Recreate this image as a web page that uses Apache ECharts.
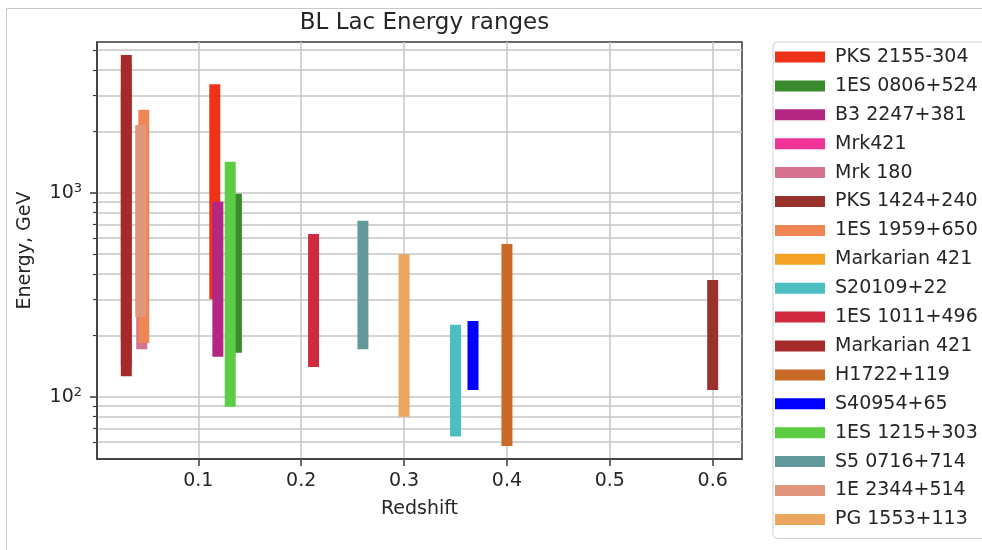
<!DOCTYPE html>
<html>
<head>
<meta charset="utf-8">
<script src="https://cdn.jsdelivr.net/npm/echarts@6/dist/echarts.min.js"></script>
<style>
html,body{margin:0;padding:0;background:#fff;}
#chart{width:982px;height:550px;}
</style>
</head>
<body>
<div id="chart"></div>
<script>
// ---- data ----
var sourceNames = ['PKS 2155-304','1ES 0806+524','B3 2247+381','Mrk421','Mrk 180','PKS 1424+240','1ES 1959+650','Markarian 421','S20109+22','1ES 1011+496','Markarian 421','H1722+119','S40954+65','1ES 1215+303','S5 0716+714','1E 2344+514','PG 1553+113'];
var redshift    = [0.116, 0.137, 0.119, 0.030, 0.045, 0.600, 0.047, 0.030, 0.350, 0.212, 0.030, 0.400, 0.367, 0.131, 0.260, 0.044, 0.300];
var energyLow   = [320, 175, 167, 150, 182, 115, 195, 200, 68, 149, 134, 61, 115, 95, 182, 262, 85];
var energyHigh  = [3200, 930, 850, 3000, 1000, 351, 2400, 4000, 212, 590, 4450, 527, 221, 1334, 685, 2018, 470];
var xTicks = [0.1, 0.2, 0.3, 0.4, 0.5, 0.6];
var yMajorTicks = [100, 1000];
var yMinorTicks = [60, 70, 80, 90, 200, 300, 400, 500, 600, 700, 800, 900, 2000, 3000, 4000, 5000];

// ---- styles ----
var palette = ['#f03218','#3a8a2e','#b32782','#ef3597','#d4728f','#9b312c','#ef8755','#f5a327','#4cbec2','#d02a40','#a52a2a','#c96a28','#0000ff','#5ccc45','#64999c','#e0977b','#eca55f'];
var FONT = 'DejaVu Sans';
var gridColor = '#c6c6c6';
var axisColor = '#3a3a3a';
var textColor = '#262626';
var yMin = Math.pow(10, 1.695), yMax = Math.pow(10, 3.739);

// unique series ids for duplicated legend names
var seen = {};
var seriesNames = sourceNames.map(function (n) {
  var k = n;
  while (seen[k]) { k += '\u200b'; }
  seen[k] = true;
  return k;
});

var series = sourceNames.map(function (n, i) {
  return {
    name: seriesNames[i],
    type: 'line',
    yAxisIndex: 0,
    data: [[redshift[i], energyLow[i]], [redshift[i], energyHigh[i]]],
    symbol: 'none',
    showSymbol: false,
    silent: true,
    animation: false,
    color: palette[i],
    lineStyle: { width: 11, cap: 'square', color: palette[i] },
    emphasis: { disabled: true }
  };
});

var chart = echarts.init(document.getElementById('chart'), null, { renderer: 'canvas' });
chart.setOption({
  animation: false,
  backgroundColor: '#ffffff',
  textStyle: { fontFamily: FONT },
  title: {
    text: 'BL Lac Energy ranges',
    left: 419.5,
    top: 7,
    textAlign: 'center',
    textStyle: { fontFamily: FONT, fontSize: 23, fontWeight: 'normal', color: textColor }
  },
  graphic: [
    { type: 'polyline', silent: true, shape: { points: [[6.5, 550], [6.5, 8.5], [982, 8.5]] }, style: { stroke: '#c8c8c8', lineWidth: 1, fill: null } }
  ],
  legend: {
    orient: 'vertical',
    left: 773,
    top: 42,
    padding: [5.5, 40, 9.5, 2],
    itemGap: 9.9,
    itemWidth: 50,
    itemHeight: 11,
    icon: 'rect',
    borderColor: '#d0d0d0',
    borderWidth: 1,
    borderRadius: 4,
    backgroundColor: '#ffffff',
    selectedMode: false,
    data: seriesNames,
    formatter: function (n) { return n.replace(/\u200b/g, ''); },
    textStyle: { fontFamily: FONT, fontSize: 19, lineHeight: 19, color: textColor, padding: [0, 0, 0, 5] }
  },
  grid: {
    left: 97, top: 42, right: 240, bottom: 91,
    show: true, borderColor: axisColor, borderWidth: 1.5, backgroundColor: 'transparent'
  },
  xAxis: {
    type: 'value',
    min: 0.0015,
    max: 0.6285,
    name: 'Redshift',
    nameLocation: 'middle',
    nameGap: 41,
    nameTextStyle: { fontFamily: FONT, fontSize: 19, color: textColor },
    axisLine: { show: true, lineStyle: { color: axisColor, width: 1.5 } },
    axisTick: { show: true, inside: false, length: 7, customValues: xTicks, lineStyle: { color: axisColor, width: 1.5 } },
    axisLabel: { show: true, customValues: xTicks, margin: 13, fontFamily: FONT, fontSize: 19, color: textColor,
      formatter: function (v) { return v.toFixed(1); } },
    splitLine: { show: true, lineStyle: { color: gridColor, width: 1.5 } }
  },
  yAxis: [{
    type: 'log',
    logBase: 10,
    min: yMin,
    max: yMax,
    name: 'Energy, GeV',
    nameLocation: 'middle',
    nameGap: 62,
    nameRotate: 90,
    nameTextStyle: { fontFamily: FONT, fontSize: 19, color: textColor },
    axisLine: { show: true, lineStyle: { color: axisColor, width: 1.5 } },
    axisTick: { show: true, length: 7, customValues: yMajorTicks, lineStyle: { color: axisColor, width: 1.5 } },
    axisLabel: {
      show: true, customValues: yMajorTicks, margin: 15,
      formatter: function (v) { return '{a|10}{b|' + Math.round(Math.log10(v)) + '}'; },
      rich: {
        a: { fontFamily: FONT, fontSize: 19, color: textColor },
        b: { fontFamily: FONT, fontSize: 13, color: textColor, padding: [0, 0, 9, 0] }
      }
    },
    splitLine: { show: true, lineStyle: { color: gridColor, width: 1.5 } }
  }, {
    type: 'log',
    logBase: 10,
    min: yMin,
    max: yMax,
    position: 'left',
    axisLine: { show: false },
    axisTick: { show: true, length: 4, customValues: yMinorTicks, lineStyle: { color: axisColor, width: 1.2 } },
    axisLabel: { show: false, customValues: yMinorTicks },
    splitLine: { show: true, lineStyle: { color: gridColor, width: 1.5 } }
  }],
  series: series
});
</script>
</body>
</html>
